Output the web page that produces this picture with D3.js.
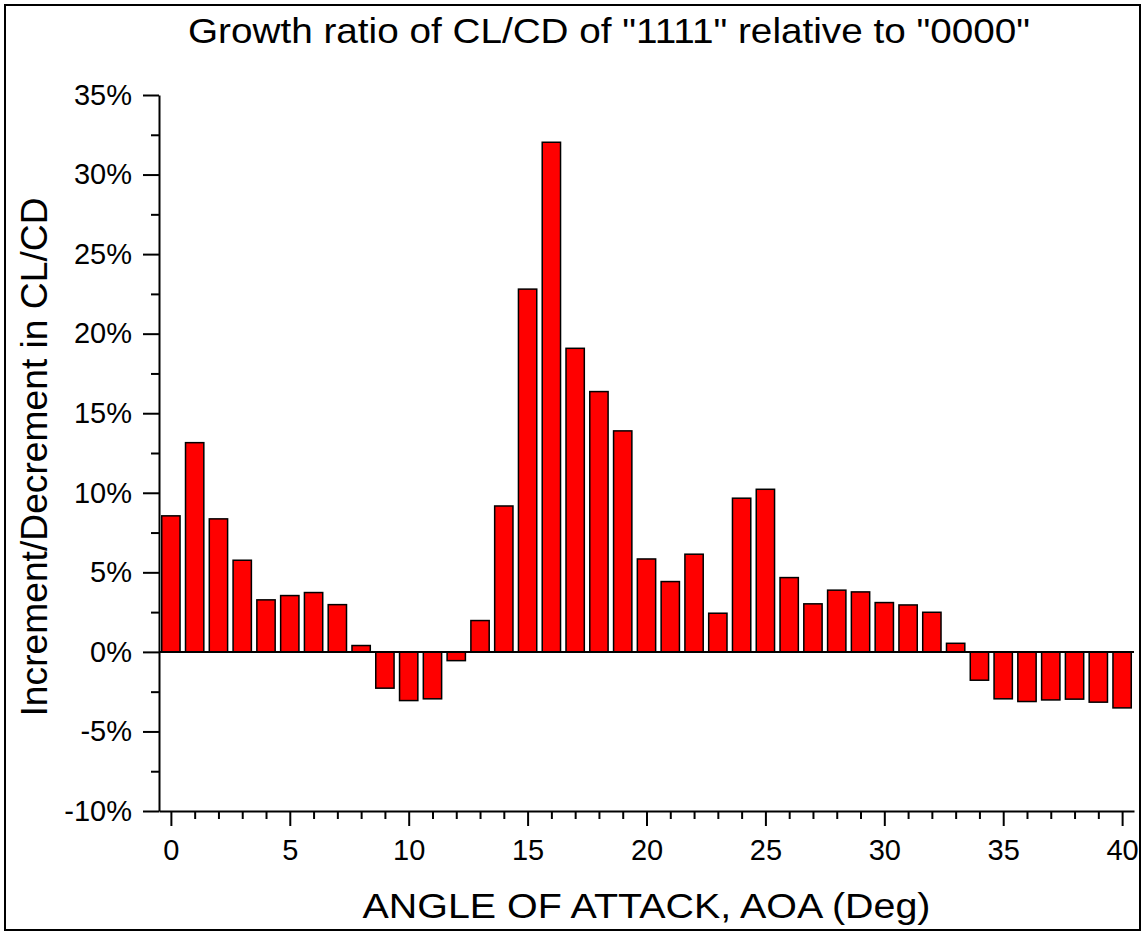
<!DOCTYPE html>
<html lang="en">
<head>
  <meta charset="UTF-8">
  <title>Growth ratio of CL/CD</title>
  <script src="https://d3js.org/d3.v7.min.js"></script>
  <style>
    body { margin: 0; background: #fff; }
    text { font-family: "Liberation Sans", Arial, sans-serif; fill: #000; }
    .axis path, .axis line { stroke: #000; stroke-width: 2px; }
    .axis text { font-size: 29px; }
    .bar { fill: #ff0000; stroke: #000; stroke-width: 1.5px; }
  </style>
</head>
<body>
  <div id="chart"></div>

  <script>
    // angle of attack (deg)
    const aoa = d3.range(0, 41);
    // growth ratio of CL/CD, in %
    const growth = [
      8.55, 13.15, 8.36, 5.76, 3.27, 3.54, 3.73, 2.97, 0.40, -2.28,
      -3.06, -2.95, -0.55, 1.97, 9.17, 22.8, 32.03, 19.08, 16.36, 13.89,
      5.84, 4.42, 6.14, 2.43, 9.66, 10.22, 4.67, 3.02, 3.88, 3.77,
      3.10, 2.95, 2.49, 0.54, -1.78, -2.95, -3.12, -3.02, -2.97, -3.16,
      -3.52
    ];
    const yMajor = [-10, -5, 0, 5, 10, 15, 20, 25, 30, 35];
    const xMajor = [0, 5, 10, 15, 20, 25, 30, 35, 40];

    const width = 1143, height = 933;
    const plotL = 159, plotR = 1134, plotT = 95, plotB = 811;

    const svg = d3.select("#chart").append("svg")
      .attr("width", width)
      .attr("height", height);

    // outer frame
    svg.append("rect")
      .attr("x", 5).attr("y", 5)
      .attr("width", 1135).attr("height", 925)
      .attr("fill", "none")
      .attr("stroke", "#000")
      .attr("stroke-width", 2);

    const x = d3.scaleLinear().domain([-0.5, 40.5]).range([plotL, plotR]);
    const y = d3.scaleLinear().domain([-10, 35]).range([plotB, plotT]);
    const unit = x(1) - x(0);
    const barW = unit * 0.77;

    // bars
    svg.append("g").selectAll("rect")
      .data(aoa)
      .join("rect")
      .attr("class", "bar")
      .attr("x", d => x(d) - barW / 2)
      .attr("y", (d, i) => y(Math.max(0, growth[i])))
      .attr("width", barW)
      .attr("height", (d, i) => Math.abs(y(growth[i]) - y(0)));

    // zero line
    svg.append("line")
      .attr("x1", plotL).attr("x2", plotR)
      .attr("y1", y(0)).attr("y2", y(0))
      .attr("stroke", "#000")
      .attr("stroke-width", 2);

    // y axis minor ticks
    svg.append("g")
      .attr("class", "axis")
      .attr("transform", `translate(${plotL},0)`)
      .call(d3.axisLeft(y).tickValues(d3.range(-7.5, 35, 5)).tickSize(8).tickFormat(""))
      .call(g => g.select(".domain").remove());

    // y axis major
    svg.append("g")
      .attr("class", "axis")
      .attr("transform", `translate(${plotL},0)`)
      .call(d3.axisLeft(y).tickValues(yMajor).tickSize(16).tickSizeOuter(0).tickPadding(11)
        .tickFormat(d => d + "%"));

    // x axis minor ticks
    svg.append("g")
      .attr("class", "axis")
      .attr("transform", `translate(0,${plotB})`)
      .call(d3.axisBottom(x).tickValues(aoa.filter(d => d % 5 !== 0)).tickSize(8).tickFormat(""))
      .call(g => g.select(".domain").remove());

    // x axis major
    svg.append("g")
      .attr("class", "axis")
      .attr("transform", `translate(0,${plotB})`)
      .call(d3.axisBottom(x).tickValues(xMajor).tickSize(15).tickSizeOuter(0).tickPadding(13));

    // titles
    svg.append("text")
      .attr("x", 609).attr("y", 43)
      .attr("text-anchor", "middle")
      .attr("font-size", 35)
      .attr("textLength", 842)
      .attr("lengthAdjust", "spacingAndGlyphs")
      .text('Growth ratio of CL/CD of "1111" relative to "0000"');

    svg.append("text")
      .attr("x", (plotL + plotR) / 2).attr("y", 918)
      .attr("text-anchor", "middle")
      .attr("font-size", 35)
      .attr("textLength", 568)
      .attr("lengthAdjust", "spacingAndGlyphs")
      .text("ANGLE OF ATTACK, AOA (Deg)");

    svg.append("text")
      .attr("transform", `translate(47,457) rotate(-90)`)
      .attr("text-anchor", "middle")
      .attr("font-size", 36)
      .attr("textLength", 519)
      .attr("lengthAdjust", "spacingAndGlyphs")
      .text("Increment/Decrement in CL/CD");
  </script>
</body>
</html>
